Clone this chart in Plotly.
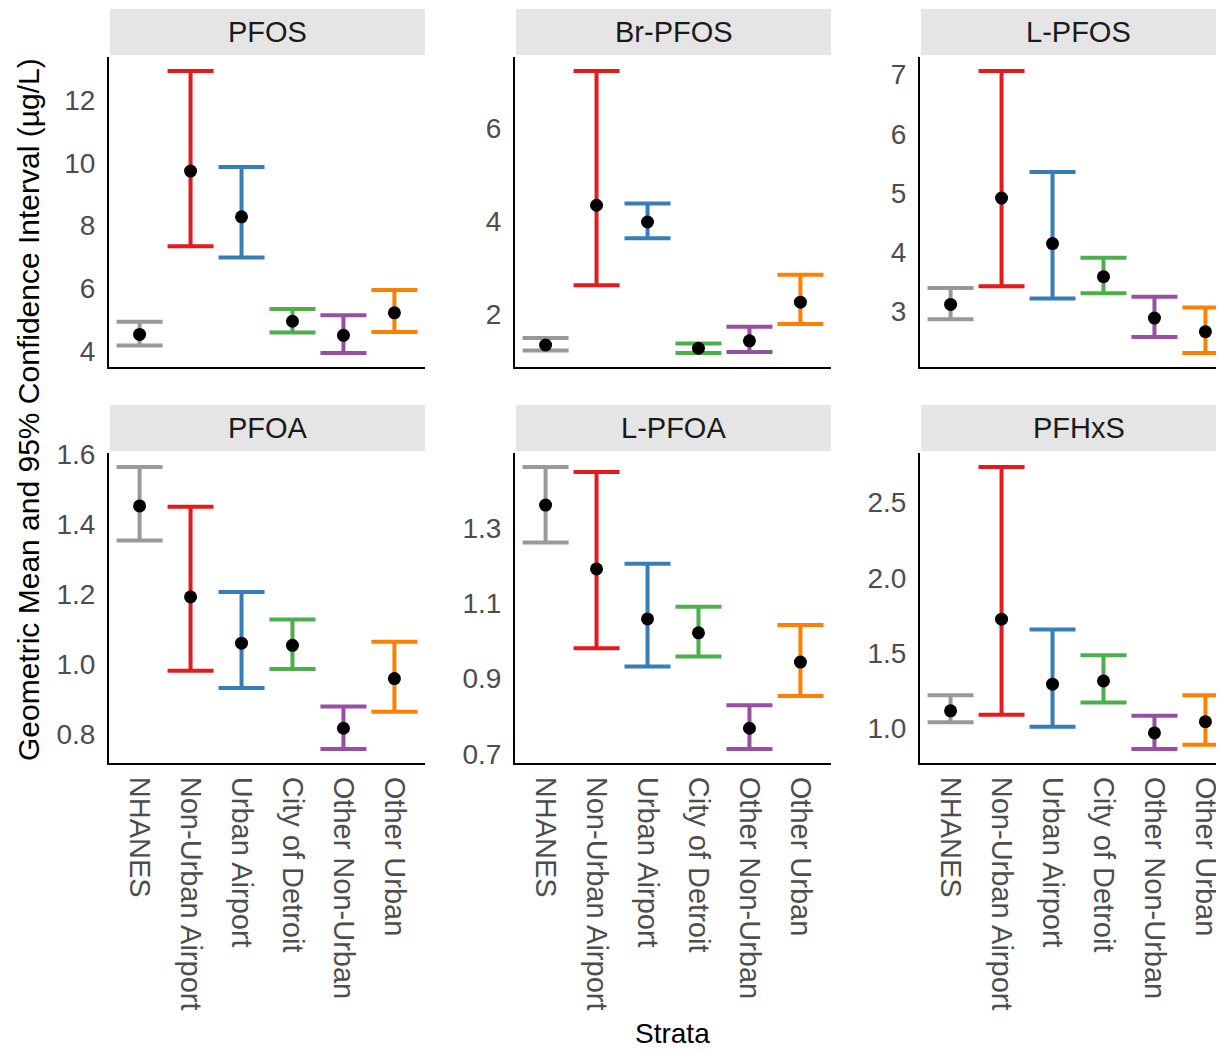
import plotly.graph_objects as go

# ---------------- data ----------------
strata = ["NHANES", "Non-Urban Airport", "Urban Airport", "City of Detroit",
          "Other Non-Urban", "Other Urban"]
strata_colors = ["#999999", "#E41A1C", "#377EB8", "#4DAF4A", "#984EA3", "#FF7F00"]

analytes = ["PFOS", "Br-PFOS", "L-PFOS", "PFOA", "L-PFOA", "PFHxS"]

pfos_gm = [4.53, 9.74, 8.28, 4.95, 4.50, 5.22]
pfos_lo = [4.18, 7.34, 6.98, 4.59, 3.94, 4.61]
pfos_hi = [4.93, 12.93, 9.87, 5.34, 5.14, 5.95]

brpfos_gm = [1.34, 4.34, 3.98, 1.27, 1.43, 2.26]
brpfos_lo = [1.22, 2.62, 3.63, 1.17, 1.19, 1.79]
brpfos_hi = [1.49, 7.22, 4.38, 1.37, 1.73, 2.85]

lpfos_gm = [3.11, 4.91, 4.14, 3.58, 2.88, 2.65]
lpfos_lo = [2.86, 3.42, 3.21, 3.30, 2.56, 2.29]
lpfos_hi = [3.39, 7.06, 5.35, 3.90, 3.24, 3.06]

pfoa_gm = [1.451, 1.191, 1.059, 1.053, 0.816, 0.958]
pfoa_lo = [1.352, 0.980, 0.931, 0.985, 0.757, 0.863]
pfoa_hi = [1.562, 1.449, 1.205, 1.127, 0.878, 1.063]

lpfoa_gm = [1.362, 1.192, 1.059, 1.022, 0.768, 0.944]
lpfoa_lo = [1.262, 0.981, 0.932, 0.959, 0.713, 0.854]
lpfoa_hi = [1.463, 1.450, 1.206, 1.091, 0.829, 1.043]

pfhxs_gm = [1.116, 1.725, 1.293, 1.315, 0.969, 1.044]
pfhxs_lo = [1.040, 1.090, 1.010, 1.172, 0.863, 0.890]
pfhxs_hi = [1.220, 2.736, 1.657, 1.485, 1.083, 1.220]

y_ticks = [
    [4, 6, 8, 10, 12],
    [2, 4, 6],
    [3, 4, 5, 6, 7],
    [0.8, 1.0, 1.2, 1.4, 1.6],
    [0.7, 0.9, 1.1, 1.3],
    [1.0, 1.5, 2.0, 2.5],
]
y_ticktext = [
    ["4", "6", "8", "10", "12"],
    ["2", "4", "6"],
    ["3", "4", "5", "6", "7"],
    ["0.8", "1.0", "1.2", "1.4", "1.6"],
    ["0.7", "0.9", "1.1", "1.3"],
    ["1.0", "1.5", "2.0", "2.5"],
]

panels = [
    (pfos_gm, pfos_lo, pfos_hi),
    (brpfos_gm, brpfos_lo, brpfos_hi),
    (lpfos_gm, lpfos_lo, lpfos_hi),
    (pfoa_gm, pfoa_lo, pfoa_hi),
    (lpfoa_gm, lpfoa_lo, lpfoa_hi),
    (pfhxs_gm, pfhxs_lo, pfhxs_hi),
]

# ---------------- layout geometry (screen pixels) ----------------
OFF = 8                      # default page body margin
VIEW_W, VIEW_H = 1224, 1050
W, H = VIEW_W - OFF, VIEW_H - OFF
col_px = [(109, 425), (515, 831), (920, 1236)]   # full panel extents
row_px = [(57, 367), (453, 763)]                 # plot area top/bottom
strip_px = [(9, 55), (405, 451)]
px_per_unit = (col_px[0][1] - col_px[0][0]) / 6.2

def fx(p):
    return (p - OFF) / W

def fy(p):
    return 1 - (p - OFF) / H

FONT = "Liberation Sans, Arial, Helvetica, sans-serif"
x_pos = list(range(1, 7))

fig = go.Figure()
layout = {}
shapes = []
annotations = []

for k, (gm, lo, hi) in enumerate(panels):
    r, c = divmod(k, 3)
    ax = "" if k == 0 else str(k + 1)
    xa, ya = "x" + ax, "y" + ax
    for i in range(6):
        fig.add_trace(go.Scatter(
            x=[x_pos[i]], y=[gm[i]], mode="markers",
            xaxis=xa, yaxis=ya, showlegend=False,
            marker=dict(color="black", size=13),
            error_y=dict(type="data", symmetric=False,
                         array=[hi[i] - gm[i]], arrayminus=[gm[i] - lo[i]],
                         color=strata_colors[i], thickness=4, width=23),
            name=strata[i],
            hovertemplate=f"{analytes[k]}<br>{strata[i]}<br>GM %{{y}}<extra></extra>",
        ))

    x0, x1 = col_px[c]
    x1c = min(x1, VIEW_W)
    xmax = 0.4 + (x1c - x0) / px_per_unit
    ymin = min(lo); ymax = max(hi); span = ymax - ymin
    yr = [ymin - 0.05 * span, ymax + 0.05 * span]
    top, bot = row_px[r]

    layout["xaxis" + ax] = dict(
        domain=[fx(x0), fx(x1c)], anchor=ya, range=[0.4, xmax],
        tickvals=x_pos, ticktext=strata, tickangle=90,
        showticklabels=(r == 1), ticks="", ticklabelstandoff=6,
        tickfont=dict(family=FONT, size=29, color="#4D4D4D"),
        showline=True, linecolor="black", linewidth=2,
        showgrid=False, zeroline=False, fixedrange=True, automargin=False,
    )
    layout["yaxis" + ax] = dict(
        domain=[fy(bot), fy(top)], anchor=xa, range=yr,
        tickvals=y_ticks[k], ticktext=y_ticktext[k],
        ticks="", ticklabelstandoff=6,
        tickfont=dict(family=FONT, size=28, color="#4D4D4D"),
        showline=True, linecolor="black", linewidth=2,
        showgrid=False, zeroline=False, fixedrange=True, automargin=False,
    )

    s0, s1 = strip_px[r]
    shapes.append(dict(type="rect", xref="paper", yref="paper",
                       x0=fx(x0 + 1), x1=fx(x1c), y0=fy(s1), y1=fy(s0),
                       fillcolor="#E5E5E5", line=dict(width=0), layer="below"))
    annotations.append(dict(text=analytes[k], xref="paper", yref="paper",
                            x=fx((x0 + 1 + x1) / 2), y=fy((s0 + s1) / 2),
                            xanchor="center", yanchor="middle", showarrow=False,
                            font=dict(family=FONT, size=29, color="#1A1A1A")))

annotations.append(dict(text="Geometric Mean and 95% Confidence Interval (µg/L)",
                        xref="paper", yref="paper", x=fx(28), y=fy(410),
                        textangle=-90, xanchor="center", yanchor="middle",
                        showarrow=False,
                        font=dict(family=FONT, size=30, color="black")))
annotations.append(dict(text="Strata", xref="paper", yref="paper",
                        x=fx(672), y=fy(1033), xanchor="center", yanchor="middle",
                        showarrow=False,
                        font=dict(family=FONT, size=28, color="black")))

fig.update_layout(
    template="none",
    width=W, height=H, autosize=False,
    margin=dict(l=0, r=0, t=0, b=0, pad=0),
    paper_bgcolor="white", plot_bgcolor="white",
    shapes=shapes, annotations=annotations,
    showlegend=False,
    **layout,
)

fig.write_html("out.html", config={"displayModeBar": False})
